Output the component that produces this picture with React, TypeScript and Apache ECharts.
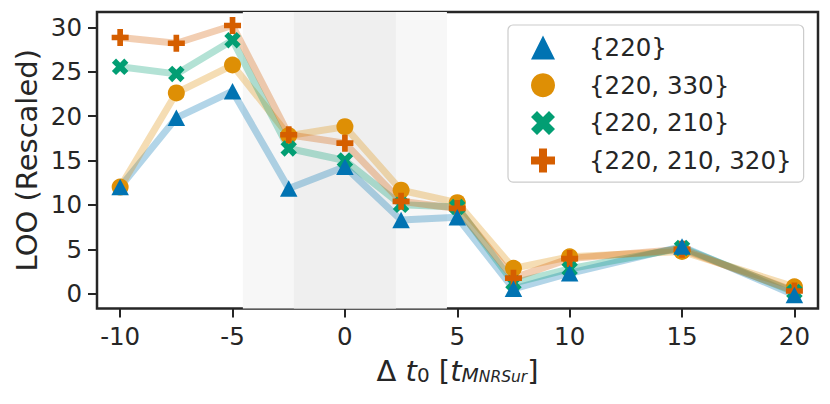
import React, { useEffect, useRef } from 'react';
import * as echarts from 'echarts';

// ---- data ----
const xValues = [-10, -7.5, -5, -2.5, 0, 2.5, 5, 7.5, 10, 15, 20];
const seriesNames = ['{220}', '{220, 330}', '{220, 210}', '{220, 210, 320}'];
const loo220 = [12.0, 19.8, 22.8, 11.85, 14.3, 8.3, 8.6, 0.55, 2.3, 5.3, -0.15];
const loo220_330 = [12.0, 22.6, 25.75, 17.8, 18.8, 11.65, 10.25, 2.85, 4.15, 4.75, 0.78];
const loo220_210 = [25.55, 24.75, 28.55, 16.35, 15.0, 10.0, 9.75, 1.2, 2.8, 5.15, 0.2];
const loo220_210_320 = [28.85, 28.2, 30.2, 17.9, 16.95, 10.4, 9.6, 1.75, 3.95, 5.0, 0.3];
const xTicks = [-10, -5, 0, 5, 10, 15, 20];
const yTicks = [0, 5, 10, 15, 20, 25, 30];
const outerBand = [-4.54, 4.54];
const innerBand = [-2.27, 2.27];
const xRange = [-11.03, 21.05];
const yRange = [-1.67, 31.72];

const colors = ['#0173b2', '#de8f05', '#029e73', '#d55e00'];
const PLUS = 'path://M-1,-3L-1,-1L-3,-1L-3,1L-1,1L-1,3L1,3L1,1L3,1L3,-1L1,-1L1,-3Z';
const XMARK = 'path://M-1,-2L0,-1L1,-2L2,-1L1,0L2,1L1,2L0,1L-1,2L-2,1L-1,0L-2,-1Z';
const symbols = ['triangle', 'circle', XMARK, PLUS];
const symbolSizes: any[] = [[17.5, 16.5], 17, 16.5, 17];
const zOrder = [6, 3, 4, 5];
const allValues = [loo220, loo220_330, loo220_210, loo220_210_320];

const FONT = 'DejaVu Sans';
const INK = '#262626';

export default function App() {
  const ref = useRef<HTMLDivElement>(null);
  useEffect(() => {
    if (!ref.current) return;
    const chart = echarts.init(ref.current, null, { renderer: 'svg' });
    const pairs = (vals: number[]) => xValues.map((x, i) => [x, vals[i]]);

    const lineSeries = allValues.map((vals, k) => ({
      type: 'line',
      name: 'line-' + k,
      data: pairs(vals),
      symbol: 'none',
      silent: true,
      z: 2,
      lineStyle: { color: colors[k], width: 7, opacity: 0.3, join: 'round', cap: 'butt' },
      itemStyle: { color: colors[k] },
    }));
    const scatterSeries = allValues.map((vals, k) => ({
      type: 'scatter',
      name: seriesNames[k],
      data: pairs(vals),
      symbol: symbols[k],
      symbolSize: symbolSizes[k],
      symbolKeepAspect: true,
      z: zOrder[k],
      itemStyle: { color: colors[k], opacity: 1 },
    }));

    const bandSeries = {
      type: 'line',
      name: 'bands',
      data: [],
      silent: true,
      z: 1,
      markArea: {
        silent: true,
        data: [
          [{ xAxis: outerBand[0], itemStyle: { color: '#f7f7f7' } }, { xAxis: outerBand[1] }],
          [{ xAxis: innerBand[0], itemStyle: { color: '#efefef' } }, { xAxis: innerBand[1] }],
        ],
      },
    };

    const main = { fontFamily: FONT, fontSize: 29, lineHeight: 34, verticalAlign: 'bottom', color: INK };

    chart.setOption({
      animation: false,
      backgroundColor: '#ffffff',
      grid: {
        left: 97,
        right: 12,
        top: 12,
        bottom: 95.5,
        show: true,
        borderColor: INK,
        borderWidth: 2.5,
        backgroundColor: 'transparent',
        containLabel: false,
        outerBoundsMode: 'none',
      },
      legend: {
        orient: 'vertical',
        left: 508,
        top: 25,
        padding: [10, 12, 9, 23],
        itemWidth: 24,
        itemHeight: 24,
        itemGap: 12.7,
        backgroundColor: 'rgba(255,255,255,0.8)',
        borderColor: '#cccccc',
        borderWidth: 1.2,
        borderRadius: 5,
        selectedMode: false,
        textStyle: {
          fontFamily: FONT,
          fontSize: 24.5,
          color: INK,
          lineHeight: 24,
          padding: [0, 0, 0, 29],
        },
        data: seriesNames.map((n, k) => ({ name: n, icon: symbols[k] })),
      },
      xAxis: {
        type: 'value',
        min: xRange[0],
        max: xRange[1],
        name: '{m|Δ }{i|t}{s0|0}{m| [}{i|t}{sm|M}{ss|NRSur}{m|]}',
        nameLocation: 'middle',
        nameGap: 42.5,
        nameMoveOverlap: false,
        nameTextStyle: {
          fontFamily: FONT,
          color: INK,
          rich: {
            m: main,
            i: { ...main, fontStyle: 'italic' },
            s0: { fontFamily: FONT, fontSize: 20, lineHeight: 21.8, verticalAlign: 'bottom', color: INK },
            sm: { fontFamily: FONT, fontSize: 20, lineHeight: 24.8, verticalAlign: 'bottom', fontStyle: 'italic', color: INK },
            ss: { fontFamily: FONT, fontSize: 15.5, lineHeight: 9, verticalAlign: 'bottom', fontStyle: 'italic', color: INK },
          },
        },
        splitLine: { show: false },
        axisLine: { show: false, onZero: false },
        axisTick: {
          show: true,
          inside: false,
          length: 9,
          lineStyle: { color: INK, width: 2 },
          customValues: xTicks,
        },
        axisLabel: {
          fontFamily: FONT,
          fontSize: 24.5,
          color: INK,
          margin: 15,
          customValues: xTicks,
          formatter: (v: number) => String(v),
        },
      },
      yAxis: {
        type: 'value',
        min: yRange[0],
        max: yRange[1],
        name: 'LOO (Rescaled)',
        nameLocation: 'middle',
        nameRotate: 90,
        nameGap: 55.5,
        nameMoveOverlap: false,
        nameTextStyle: { fontFamily: FONT, fontSize: 29, color: INK },
        splitLine: { show: false },
        axisLine: { show: false, onZero: false },
        axisTick: {
          show: true,
          inside: false,
          length: 9,
          lineStyle: { color: INK, width: 2 },
          customValues: yTicks,
        },
        axisLabel: {
          fontFamily: FONT,
          fontSize: 24.5,
          color: INK,
          margin: 15,
          customValues: yTicks,
          formatter: (v: number) => String(v),
        },
      },
      series: [bandSeries, ...lineSeries, ...scatterSeries],
    });
    return () => chart.dispose();
  }, []);
  return (
    <div
      ref={ref}
      style={{ position: 'absolute', left: 0, top: 0, width: 830, height: 404 }}
    />
  );
}
